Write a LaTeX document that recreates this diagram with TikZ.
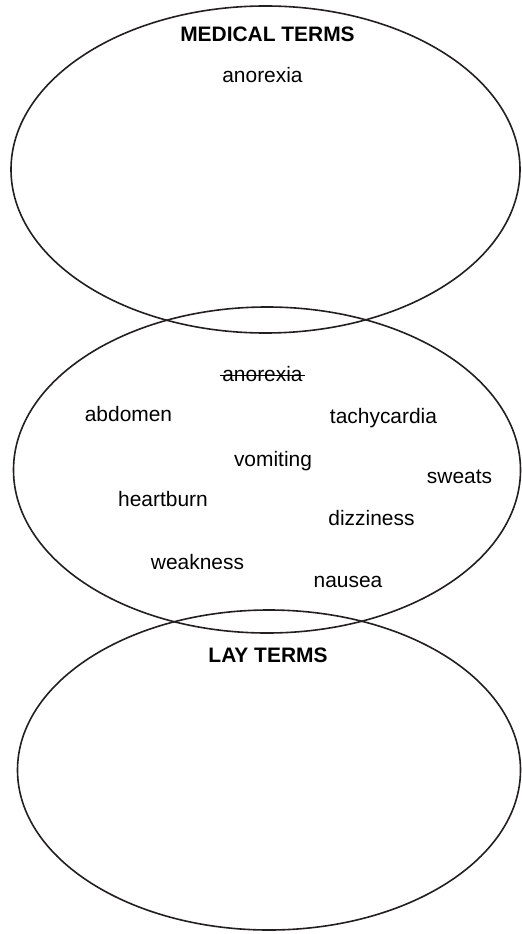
\documentclass[tikz,border=0pt]{standalone}
\usepackage{fontspec}
\setmainfont{Liberation Sans}

\tikzset{every picture/.style={line width=1.2pt}}
\tikzset{term/.style={anchor=base,inner sep=0pt,font=\fontsize{15.7}{18}\selectfont},
  heading/.style={term,font=\fontsize{15.7}{18}\selectfont\bfseries}}

\begin{document}
\begin{tikzpicture}[x=0.75pt,y=0.75pt,yscale=-1,xscale=1]
\useasboundingbox (0,0) rectangle (521,934);

%Shape: Ellipse [id:medical]
\draw  [color={rgb, 255:red, 35; green, 31; blue, 32 }] (265.5,169.5) ellipse (254.5 and 163.5);
%Shape: Ellipse [id:shared]
\draw  [color={rgb, 255:red, 35; green, 31; blue, 32 }] (267,470) ellipse (253.5 and 163);
%Shape: Ellipse [id:lay]
\draw  [color={rgb, 255:red, 35; green, 31; blue, 32 }] (269,770) ellipse (251.5 and 160);

% Text Node
\node [heading] (medterms) at (267.5,41.5) {MEDICAL TERMS};
% Text Node
\node [term] (anorexia) at (262.5,82.5) {anorexia};
% Text Node
\node [term] (struck) at (262.5,381.5) {anorexia};
\draw [line width=0.9pt] ([xshift=-1.5pt,yshift=-4.3pt]struck.base west) -- ([xshift=1.5pt,yshift=-4.3pt]struck.base east);
% Text Node
\node [term] (abdomen) at (128.5,421.5) {abdomen};
% Text Node
\node [term] (tachy) at (383.5,423) {tachycardia};
% Text Node
\node [term] (vomiting) at (273,466) {vomiting};
% Text Node
\node [term] (sweats) at (459.5,483) {sweats};
% Text Node
\node [term] (heartburn) at (163,506.5) {heartburn};
% Text Node
\node [term] (dizziness) at (371.5,525) {dizziness};
% Text Node
\node [term] (weakness) at (197.5,569) {weakness};
% Text Node
\node [term] (nausea) at (348,587) {nausea};
% Text Node
\node [heading] (layterms) at (268,662.5) {LAY TERMS};

\end{tikzpicture}
\end{document}
